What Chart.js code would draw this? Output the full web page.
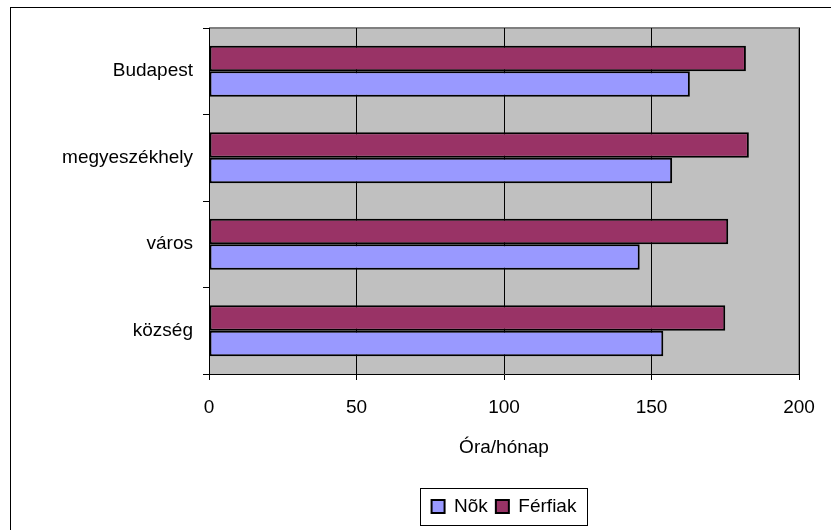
<!DOCTYPE html>
<html>
<head>
<meta charset="utf-8">
<script src="https://cdn.jsdelivr.net/npm/chart.js@4/dist/chart.umd.min.js"></script>
<style>
  html, body { margin: 0; padding: 0; background: #fff; }
  #wrap { width: 831px; height: 530px; position: relative; }
</style>
</head>
<body>
<div id="wrap"><canvas id="myChart" width="831" height="530"></canvas></div>
<script>
const categories = ['Budapest', 'megyeszékhely', 'város', 'község'];
const ferfiak = [182, 183, 176, 175];
const nok = [163, 157, 146, 154];
const xTicks = [0, 50, 100, 150, 200];

const FONT = 'Liberation Sans, Arial, sans-serif';

// gray plot background + outer frame + legend box
const decor = {
  id: 'decor',
  beforeDraw(chart) {
    const { ctx, chartArea: a } = chart;
    ctx.save();
    ctx.fillStyle = '#fff';
    ctx.fillRect(0, 0, chart.width, chart.height);
    ctx.strokeStyle = '#000';
    ctx.lineWidth = 1;
    ctx.strokeRect(10.5, 7.5, 840, 540);
    ctx.fillStyle = '#C0C0C0';
    ctx.fillRect(a.left, a.top, a.right - a.left, a.bottom - a.top);
    ctx.strokeStyle = '#808080';
    ctx.lineWidth = 2;
    ctx.beginPath();
    ctx.moveTo(a.left, a.top);
    ctx.lineTo(a.right, a.top);
    ctx.lineTo(a.right, a.bottom);
    ctx.stroke();
    ctx.restore();
  },
  afterDraw(chart) {
    const boxes = chart.legend.legendHitBoxes;
    if (!boxes || !boxes.length) return;
    const l = Math.min(...boxes.map((b) => b.left));
    const r = Math.max(...boxes.map((b) => b.left + b.width));
    const t = Math.min(...boxes.map((b) => b.top));
    const b = Math.max(...boxes.map((bx) => bx.top + bx.height));
    const { ctx } = chart;
    ctx.save();
    ctx.strokeStyle = '#000';
    ctx.lineWidth = 1;
    ctx.strokeRect(Math.round(l - 12) + 0.5, Math.round(t - 9) + 0.5, Math.round(r - l + 22), Math.round(b - t + 18));
    ctx.restore();
  },
};

const config = {
  type: 'bar',
  data: {
    labels: categories,
    datasets: [
      {
        label: 'Férfiak',
        data: ferfiak,
        backgroundColor: '#993366',
        borderColor: '#000',
        borderWidth: 2,
        borderSkipped: false,
        categoryPercentage: 0.59,
        barPercentage: 1,
      },
      {
        label: 'Nõk',
        data: nok,
        backgroundColor: '#9999FF',
        borderColor: '#000',
        borderWidth: 2,
        borderSkipped: false,
        categoryPercentage: 0.59,
        barPercentage: 1,
      },
    ],
  },
  options: {
    indexAxis: 'y',
    responsive: false,
    animation: false,
    layout: {
      padding: { left: 10, right: 32, top: 28, bottom: 4 },
    },
    plugins: {
      tooltip: { enabled: false },
      legend: {
        position: 'bottom',
        fullSize: false,
        reverse: true,
        labels: {
          color: '#000',
          font: { size: 19, family: FONT },
          boxWidth: 13,
          boxHeight: 13,
          padding: 8,
        },
      },
    },
    scales: {
      x: {
        min: 0,
        max: 200,
        afterBuildTicks: (scale) => {
          scale.ticks = xTicks.map((v) => ({ value: v }));
        },
        afterFit: (scale) => {
          scale.height = 115;
        },
        ticks: {
          color: '#000',
          font: { size: 19, family: FONT },
          padding: 16,
          maxRotation: 0,
        },
        grid: {
          color: '#000',
          lineWidth: 1,
          tickLength: 6,
        },
        border: { color: '#000', width: 1 },
        title: {
          display: true,
          text: 'Óra/hónap',
          color: '#000',
          font: { size: 19, family: FONT },
          padding: { top: 0, bottom: 30 },
        },
      },
      y: {
        afterFit: (scale) => {
          scale.width = 199;
        },
        ticks: {
          color: '#000',
          font: { size: 19, family: FONT },
          padding: 10,
        },
        grid: {
          color: '#000',
          drawOnChartArea: false,
          tickLength: 6,
        },
        border: { color: '#000', width: 1 },
      },
    },
  },
  plugins: [decor],
};

const ctx = document.getElementById('myChart').getContext('2d');
new Chart(ctx, config);
</script>
</body>
</html>
